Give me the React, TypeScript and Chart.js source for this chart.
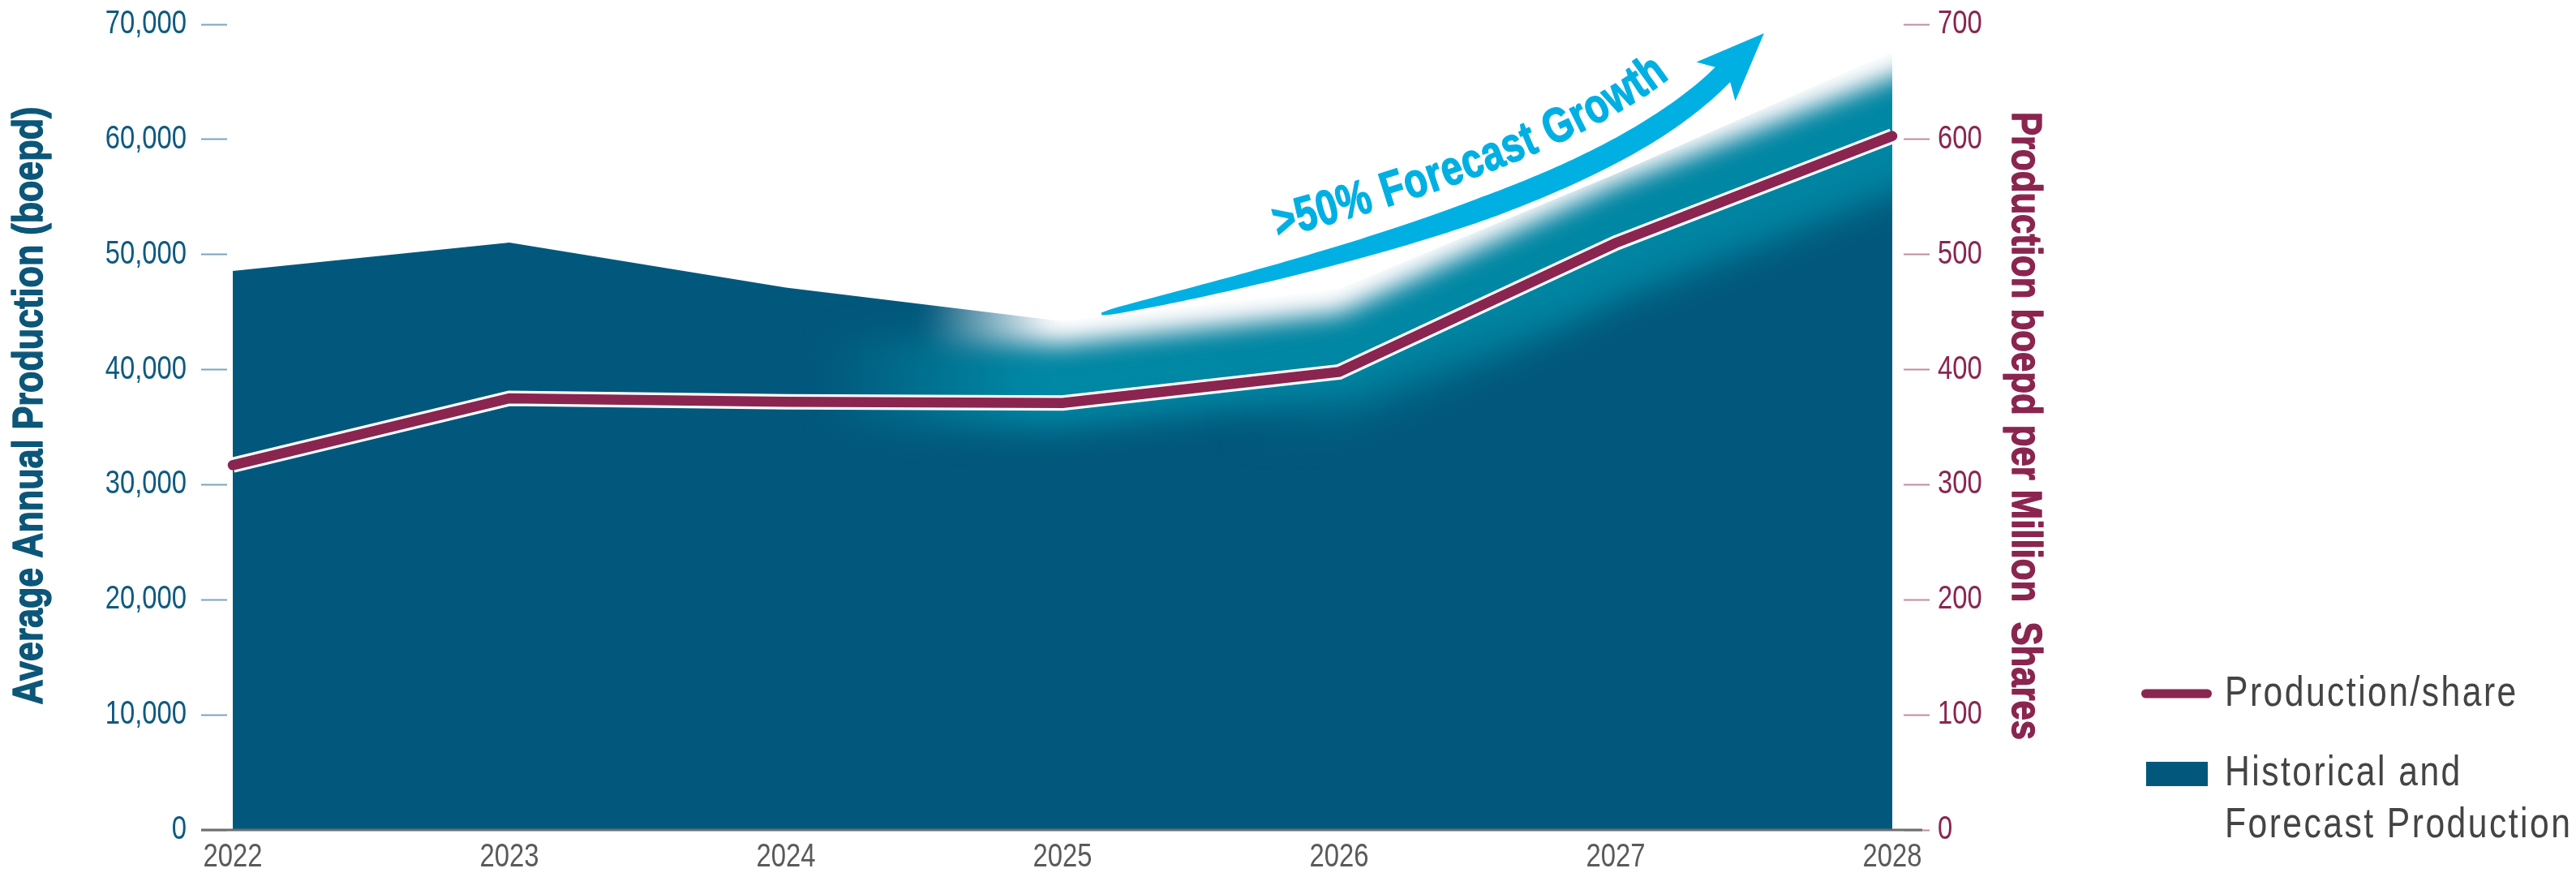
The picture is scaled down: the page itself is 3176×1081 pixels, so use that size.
import React, { useEffect, useRef } from 'react';
import { Chart, registerables } from 'chart.js';

Chart.register(...registerables);

// ---------------- data ----------------
const years = [2022, 2023, 2024, 2025, 2026, 2027, 2028];
const production = [48570, 51040, 47130, 44200, 47000, 57000, 67600];
const productionPerShare = [317, 375, 372, 371, 398, 510, 603];
const leftAxisMax = 70000;
const leftAxisStep = 10000;
const rightAxisMax = 700;
const rightAxisStep = 100;
const leftTitle = 'Average Annual Production (boepd)';
const rightTitle = 'Production boepd per Million  Shares';
const lineLabel = 'Production/share';
const areaLabel = ['Historical and', 'Forecast Production'];
const arrowText = '>50% Forecast Growth';
const forecastFadeFrom = 2024;

// ---------------- styles / layout ----------------
const W = 3176;
const H = 1081;
const PLOT_LEFT = 280;
const PLOT_RIGHT = 2347;
const PLOT_TOP = 30;
const PLOT_BOTTOM = 1023;
const X_PAD_L = 7;
const X_PAD_R = 14;
const AREA = '#02587c';
const MAROON = '#8a2550';
const TEAL = '0,136,164';
const ARROW = '#00b0e3';
const FONT = "'Liberation Sans', Arial, sans-serif";
const SX = 0.82; // horizontal condensing of text

// annotation arrow (year, boepd) control points
const ARROW_PATH = [
  [2025.141, 44833],
  [2026.431, 51671],
  [2027.076, 58156],
  [2027.387, 65628],
];

const pxPerYear = (PLOT_RIGHT - PLOT_LEFT - X_PAD_L - X_PAD_R) / (years[years.length - 1] - years[0]);
const xMin = years[0] - X_PAD_L / pxPerYear;
const xMax = years[years.length - 1] + X_PAD_R / pxPerYear;

type P = { x: number; y: number };

function bez(p: P[], t: number): P {
  const u = 1 - t;
  return {
    x: u * u * u * p[0].x + 3 * u * u * t * p[1].x + 3 * u * t * t * p[2].x + t * t * t * p[3].x,
    y: u * u * u * p[0].y + 3 * u * u * t * p[1].y + 3 * u * t * t * p[2].y + t * t * t * p[3].y,
  };
}
function bezD(p: P[], t: number): P {
  const u = 1 - t;
  return {
    x: 3 * (u * u * (p[1].x - p[0].x) + 2 * u * t * (p[2].x - p[1].x) + t * t * (p[3].x - p[2].x)),
    y: 3 * (u * u * (p[1].y - p[0].y) + 2 * u * t * (p[2].y - p[1].y) + t * t * (p[3].y - p[2].y)),
  };
}

function text(
  ctx: CanvasRenderingContext2D,
  str: string,
  x: number,
  y: number,
  o: {
    size: number; bold?: boolean; color: string; align?: CanvasTextAlign; baseline?: CanvasTextBaseline;
    rot?: number; sx?: number; spacing?: number; heavy?: number;
  }
) {
  ctx.save();
  ctx.translate(x, y);
  if (o.rot) ctx.rotate(o.rot);
  ctx.scale(o.sx ?? SX, 1);
  ctx.font = `${o.bold ? 'bold ' : ''}${o.size}px ${FONT}`;
  ctx.fillStyle = o.color;
  ctx.textAlign = o.align ?? 'left';
  ctx.textBaseline = o.baseline ?? 'alphabetic';
  (ctx as any).letterSpacing = `${o.spacing ?? 0}px`;
  ctx.fillText(str, 0, 0);
  if (o.heavy) {
    ctx.strokeStyle = o.color;
    ctx.lineWidth = o.heavy;
    ctx.lineJoin = 'round';
    ctx.strokeText(str, 0, 0);
  }
  ctx.restore();
}

function strokeOffset(ctx: CanvasRenderingContext2D, pts: P[], dy: number) {
  ctx.beginPath();
  pts.forEach((p, i) => (i ? ctx.lineTo(p.x, p.y + dy) : ctx.moveTo(p.x, p.y + dy)));
  ctx.stroke();
}

const fadePlugin = {
  id: 'forecastFade',
  afterDatasetDraw(chart: any, args: any) {
    if (args.index !== 0) return;
    const ctx: CanvasRenderingContext2D = chart.ctx;
    const area = chart.chartArea;
    const xs = chart.scales.x;
    const am = chart.getDatasetMeta(0).data;
    const lm = chart.getDatasetMeta(2).data;
    const startIdx = years.indexOf(forecastFadeFrom);
    const pts: P[] = lm.slice(startIdx).map((p: any) => ({ x: p.x, y: p.y }));
    const last = pts[pts.length - 1];
    const prev = pts[pts.length - 2];
    const slope = (last.y - prev.y) / (last.x - prev.x);
    pts.push({ x: last.x + 300, y: last.y + slope * 300 });
    const x0 = pts[0].x;

    // teal glow band, clipped to the area
    ctx.save();
    ctx.beginPath();
    ctx.rect(area.left, area.top, area.right - area.left, area.bottom - area.top);
    ctx.clip();
    ctx.beginPath();
    ctx.moveTo(am[0].x, area.bottom);
    am.forEach((p: any) => ctx.lineTo(p.x, p.y));
    ctx.lineTo(am[am.length - 1].x, area.bottom);
    ctx.closePath();
    ctx.clip();
    ctx.lineJoin = 'round';
    const gT = ctx.createLinearGradient(x0 + 40, 0, x0 + 300, 0);
    gT.addColorStop(0, `rgba(${TEAL},0)`);
    gT.addColorStop(1, `rgba(${TEAL},1)`);
    ctx.filter = 'blur(20px)';
    ctx.strokeStyle = gT;
    ctx.lineWidth = 110;
    strokeOffset(ctx, pts, -25);
    // extra teal beneath the line on the steep part
    const gT2 = ctx.createLinearGradient(xs.getPixelForValue(2025.6), 0, xs.getPixelForValue(2026.8), 0);
    gT2.addColorStop(0, `rgba(${TEAL},0)`);
    gT2.addColorStop(1, `rgba(${TEAL},0.85)`);
    ctx.filter = 'blur(22px)';
    ctx.strokeStyle = gT2;
    ctx.lineWidth = 70;
    strokeOffset(ctx, pts, 35);
    ctx.restore();

    // white glow, clipped to chart area
    ctx.save();
    ctx.beginPath();
    ctx.rect(area.left, area.top, area.right - area.left, area.bottom - area.top);
    ctx.clip();
    const gW = ctx.createLinearGradient(x0 + 170, 0, x0 + 330, 0);
    gW.addColorStop(0, 'rgba(255,255,255,0)');
    gW.addColorStop(1, 'rgba(255,255,255,1)');
    ctx.filter = 'blur(15px)';
    ctx.fillStyle = gW;
    ctx.beginPath();
    pts.forEach((p, i) => (i ? ctx.lineTo(p.x, p.y - 72) : ctx.moveTo(p.x, p.y - 72)));
    ctx.lineTo(pts[pts.length - 1].x, area.top - 400);
    ctx.lineTo(x0, area.top - 400);
    ctx.closePath();
    ctx.fill();
    ctx.restore();
  },
};

const decorPlugin = {
  id: 'decor',
  afterDraw(chart: any) {
    const ctx: CanvasRenderingContext2D = chart.ctx;
    const area = chart.chartArea;
    const xs = chart.scales.x;
    const ys = chart.scales.y;
    const ys1 = chart.scales.y1;

    // bottom axis line
    ctx.save();
    ctx.strokeStyle = '#6e6e6e';
    ctx.lineWidth = 3;
    ctx.beginPath();
    ctx.moveTo(area.left - 32, area.bottom);
    ctx.lineTo(area.right + 23, area.bottom);
    ctx.stroke();
    ctx.restore();

    // tick labels from the scales
    ys.ticks.forEach((t: any) => {
      text(ctx, Number(t.value).toLocaleString('en-US'), area.left - 32 - 18, ys.getPixelForValue(t.value), {
        size: 40, color: '#0e5a80', align: 'right', baseline: 'middle',
      });
    });
    ys1.ticks.forEach((t: any) => {
      text(ctx, String(t.value), area.right + 32 + 10, ys1.getPixelForValue(t.value), {
        size: 40, color: MAROON, align: 'left', baseline: 'middle',
      });
    });
    xs.ticks.forEach((t: any) => {
      text(ctx, String(t.value), xs.getPixelForValue(t.value), area.bottom + 34, {
        size: 40, color: '#5a5a5a', align: 'center', baseline: 'middle',
      });
    });

    // arrow
    const cp: P[] = ARROW_PATH.map(([yr, v]) => ({ x: xs.getPixelForValue(yr), y: ys.getPixelForValue(v) }));
    const N = 120;
    const upper: P[] = [];
    const lower: P[] = [];
    for (let i = 0; i <= N; i++) {
      const t = i / N;
      const p = bez(cp, t);
      const d = bezD(cp, t);
      const len = Math.hypot(d.x, d.y);
      const nx = d.y / len;
      const ny = -d.x / len;
      let w = t < 0.45 ? 3 + 25 * Math.sqrt(t / 0.45) : 28;
      if (t > 0.8) w = 28 - 2 * ((t - 0.8) / 0.2);
      upper.push({ x: p.x + (nx * w) / 2, y: p.y + (ny * w) / 2 });
      lower.push({ x: p.x - (nx * w) / 2, y: p.y - (ny * w) / 2 });
    }
    const E = cp[3];
    const dE = bezD(cp, 1);
    const lE = Math.hypot(dE.x, dE.y);
    const dx = dE.x / lE;
    const dy = dE.y / lE;
    const nx = dy;
    const ny = -dx;
    ctx.save();
    ctx.fillStyle = ARROW;
    ctx.beginPath();
    upper.forEach((p, i) => (i ? ctx.lineTo(p.x, p.y) : ctx.moveTo(p.x, p.y)));
    ctx.lineTo(E.x - 12 * dx + 34 * nx, E.y - 12 * dy + 34 * ny);
    ctx.lineTo(E.x + 72 * dx, E.y + 72 * dy);
    ctx.lineTo(E.x - 12 * dx - 34 * nx, E.y - 12 * dy - 34 * ny);
    for (let i = lower.length - 1; i >= 0; i--) ctx.lineTo(lower[i].x, lower[i].y);
    ctx.closePath();
    ctx.fill();
    ctx.restore();

    // text along the arrow
    const samples: P[] = [];
    const M = 600;
    for (let i = 0; i <= M; i++) {
      const t = i / M;
      const p = bez(cp, t);
      const d = bezD(cp, t);
      const len = Math.hypot(d.x, d.y);
      samples.push({ x: p.x + (d.y / len) * 40, y: p.y + (-d.x / len) * 40 });
    }
    const cum = [0];
    for (let i = 1; i < samples.length; i++) {
      cum.push(cum[i - 1] + Math.hypot(samples[i].x - samples[i - 1].x, samples[i].y - samples[i - 1].y));
    }
    const at = (s: number) => {
      let i = 1;
      while (i < cum.length - 1 && cum[i] < s) i++;
      const a = samples[i - 1];
      const b = samples[i];
      const f = (s - cum[i - 1]) / (cum[i] - cum[i - 1] || 1);
      return { x: a.x + (b.x - a.x) * f, y: a.y + (b.y - a.y) * f, ang: Math.atan2(b.y - a.y, b.x - a.x) };
    };
    const aSize = 60;
    const aSx = 0.78;
    ctx.save();
    ctx.font = `bold ${aSize}px ${FONT}`;
    let s = cum[Math.round(0.19 * M)];
    for (const ch of arrowText) {
      const w = ctx.measureText(ch).width * aSx;
      const q = at(s + w / 2);
      text(ctx, ch, q.x, q.y, { size: aSize, bold: true, color: ARROW, align: 'center', rot: q.ang, sx: aSx, heavy: 1.6 });
      s += w + 1;
    }
    ctx.restore();

    // axis titles
    text(ctx, leftTitle, 52, 500, { size: 52, bold: true, color: '#0b5679', align: 'center', rot: -Math.PI / 2, sx: 0.83, heavy: 1.4 });
    text(ctx, rightTitle, 2481, 525, { size: 52, bold: true, color: MAROON, align: 'center', rot: Math.PI / 2, sx: 0.84, heavy: 1.4 });

    // legend
    ctx.save();
    ctx.strokeStyle = MAROON;
    ctx.lineWidth = 11;
    ctx.lineCap = 'round';
    ctx.beginPath();
    ctx.moveTo(2645.5, 855);
    ctx.lineTo(2721.5, 855);
    ctx.stroke();
    ctx.fillStyle = AREA;
    ctx.fillRect(2646, 939, 76, 30);
    ctx.restore();
    const lg = { size: 52, color: '#444444', spacing: 3 };
    text(ctx, lineLabel, 2743, 870, lg);
    text(ctx, areaLabel[0], 2743, 968, lg);
    text(ctx, areaLabel[1], 2743, 1032, lg);
  },
};

export default function App() {
  const ref = useRef<HTMLCanvasElement>(null);
  useEffect(() => {
    const canvas = ref.current!;
    const chart = new Chart(canvas, {
      type: 'line',
      data: {
        datasets: [
          {
            label: areaLabel.join(' '),
            data: years.map((yr, i) => ({ x: yr, y: production[i] })),
            yAxisID: 'y',
            backgroundColor: AREA,
            borderWidth: 0,
            pointRadius: 0,
            fill: 'origin',
            tension: 0,
            order: 3,
          },
          {
            label: 'outline',
            data: years.map((yr, i) => ({ x: yr, y: productionPerShare[i] })),
            yAxisID: 'y1',
            borderColor: '#ffffff',
            borderWidth: 19,
            borderCapStyle: 'butt',
            borderJoinStyle: 'miter',
            pointRadius: 0,
            fill: false,
            order: 2,
          },
          {
            label: lineLabel,
            data: years.map((yr, i) => ({ x: yr, y: productionPerShare[i] })),
            yAxisID: 'y1',
            borderColor: MAROON,
            borderWidth: 12.5,
            borderCapStyle: 'round',
            borderJoinStyle: 'miter',
            pointRadius: 0,
            fill: false,
            order: 1,
          },
        ],
      },
      options: {
        responsive: false,
        animation: false,
        devicePixelRatio: 1,
        layout: { padding: { top: PLOT_TOP, left: 0, right: 0, bottom: 0 } },
        plugins: { legend: { display: false }, tooltip: { enabled: false } },
        scales: {
          x: {
            type: 'linear',
            min: xMin,
            max: xMax,
            afterBuildTicks: (scale: any) => {
              scale.ticks = years.map((v) => ({ value: v }));
            },
            afterFit: (scale: any) => {
              scale.height = H - PLOT_BOTTOM;
            },
            grid: { display: false, drawTicks: false },
            border: { display: false },
            ticks: { display: false },
          },
          y: {
            position: 'left',
            min: 0,
            max: leftAxisMax,
            afterFit: (scale: any) => {
              scale.width = PLOT_LEFT;
            },
            grid: { display: true, drawOnChartArea: false, drawTicks: true, tickLength: 32, tickColor: '#7ba3be', tickWidth: 2 },
            border: { display: false },
            ticks: { display: false, stepSize: leftAxisStep },
          },
          y1: {
            position: 'right',
            min: 0,
            max: rightAxisMax,
            afterFit: (scale: any) => {
              scale.width = W - PLOT_RIGHT;
            },
            grid: { display: true, drawOnChartArea: false, drawTicks: true, tickLength: 32, tickColor: '#c08aa3', tickWidth: 2 },
            border: { display: false },
            ticks: { display: false, stepSize: rightAxisStep },
          },
        },
      },
      plugins: [fadePlugin, decorPlugin],
    } as any);
    return () => chart.destroy();
  }, []);

  return (
    <div style={{ position: 'absolute', left: 0, top: 0, width: W, height: H, background: '#ffffff' }}>
      <canvas ref={ref} width={W} height={H} style={{ display: 'block', width: W, height: H }} />
    </div>
  );
}
